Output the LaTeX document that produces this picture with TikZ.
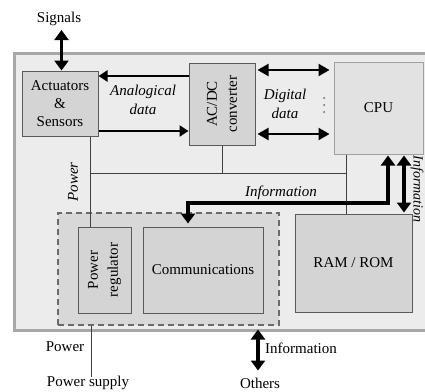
\documentclass[tikz,border=0pt]{standalone}
\usepackage{fontspec}
\setmainfont{Liberation Serif}
\usetikzlibrary{arrows.meta}
\definecolor{bgfill}{HTML}{ECECEC}
\definecolor{bgline}{HTML}{A8A8A8}
\definecolor{boxfill}{HTML}{D4D4D4}
\definecolor{boxline}{HTML}{5A5A5A}
\definecolor{cpufill}{HTML}{E2E2E2}
\definecolor{cpuline}{HTML}{A0A0A0}
\definecolor{dashfill}{HTML}{D8D8D8}
\definecolor{dashline}{HTML}{6A6A6A}
\begin{document}
\begin{tikzpicture}[x=1pt,y=-1pt,
  font=\fontsize{15}{18}\selectfont,
  outerbox/.style={draw=bgline, fill=bgfill, line width=3pt, inner sep=0pt},
  box/.style={draw=boxline, fill=boxfill, line width=1pt, inner sep=0pt, align=center},
  cpubox/.style={draw=cpuline, fill=cpufill, line width=1pt, inner sep=0pt, align=center},
  dashbox/.style={draw=dashline, fill=dashfill, line width=1.6pt, dash pattern=on 6pt off 4pt, inner sep=0pt},
  lbl/.style={inner sep=0pt, align=center},
  ilbl/.style={inner sep=0pt, align=center, font=\fontsize{15}{19}\selectfont\itshape},
  thin/.style={draw=black!75, line width=1pt},
  bigarrow/.style={line width=3.5pt, {Triangle[length=10pt,width=14pt]}-{Triangle[length=10pt,width=14pt]}},
  onearrow/.style={line width=2.2pt, -{Triangle[length=9pt,width=11pt]}},
  digarrow/.style={line width=2.2pt, {Triangle[length=11pt,width=12pt]}-{Triangle[length=11pt,width=12pt]}}
]
\useasboundingbox (0,0) rectangle (425,391);

% outer frame
\node[outerbox, minimum width=426pt, minimum height=277pt] (outer) at (227,191.5) {};

% dashed communications group
\node[dashbox, minimum width=221pt, minimum height=112pt] (grp) at (168.5,269) {};

% boxes
\node[box, minimum width=76pt, minimum height=65pt] (act) at (60,103.5) {Actuators\\\&\\Sensors};
\node[box, minimum width=66pt, minimum height=82pt] (adc) at (222,104) {};
\node[lbl, rotate=90, font=\fontsize{15}{20}\selectfont] at (adc) {AC/DC\\converter};
\node[cpubox, minimum width=89pt, minimum height=92pt] (cpu) at (378.5,108) {CPU};
\node[box, minimum width=117pt, minimum height=98pt] (ram) at (353.5,263) {RAM / ROM};
\node[box, minimum width=53pt, minimum height=86pt] (preg) at (104.5,270) {};
\node[lbl, rotate=90, font=\fontsize{15}{20}\selectfont] at (preg) {Power\\regulator};
\node[box, minimum width=120pt, minimum height=86pt] (comm) at (203,270) {Communications};

% outside labels
\node[lbl] (sig) at (59,19) {Signals};
\node[lbl] (pwr) at (65,347) {Power};
\node[lbl] (psup) at (88,383) {Power supply};
\node[lbl] (oth) at (260,383) {Others};
\node[lbl, anchor=west] (infob) at (265,348) {Information};

% inner labels
\node[ilbl] (anl) at (143,99.5) {Analogical\\data};
\node[ilbl] (dig) at (285,103.5) {Digital\\data};
\node[ilbl] (infm) at (281,193) {Information};
\node[ilbl, rotate=90] (pwl) at (73,182) {Power};
\node[ilbl, rotate=-90, font=\fontsize{14}{17}\selectfont\itshape] (infr) at (417,189) {Information};

% dots between digital data arrows
\fill[black!60] (324,98) circle (1pt) (324,105) circle (1pt) (324,112) circle (1pt);

% thin wiring
\coordinate (psend) at (91,377);
\draw[thin] (act.south -| 90,0) -- (preg.north -| 90,0);
\draw[thin] (90,173) -- (346,173);
\draw[thin] (adc.south) -- (adc.south |- 0,173);
\draw[thin] (cpu.south -| 346,0) -- (ram.north -| 346,0);
\draw[thin] (grp.south -| 91,0) -- (psend);

% arrows
\draw[bigarrow, shorten <=4pt] (sig.south -| 61.5,0) -- (act.north -| 61.5,0);
\draw[onearrow] (adc.west |- 0,76) -- (act.east |- 0,76);
\draw[onearrow] (act.east |- 0,131) -- (adc.west |- 0,131);
\draw[digarrow, shorten <=2pt, shorten >=4pt] (adc.east |- 0,70) -- (cpu.west |- 0,70);
\draw[digarrow, shorten <=2pt, shorten >=4pt] (adc.east |- 0,134) -- (cpu.west |- 0,134);
\draw[bigarrow, shorten <=1pt, shorten >=3pt] (cpu.south -| 388,0) |- (188,203) -- (comm.north -| 188,0);
\draw[bigarrow, shorten <=1pt, shorten >=1pt] (cpu.south -| 404,0) -- (ram.north -| 404,0);
\draw[bigarrow, shorten <=-2pt, shorten >=7pt] (outer.south -| 258,0) -- (oth.north -| 258,0);
\end{tikzpicture}
\end{document}
